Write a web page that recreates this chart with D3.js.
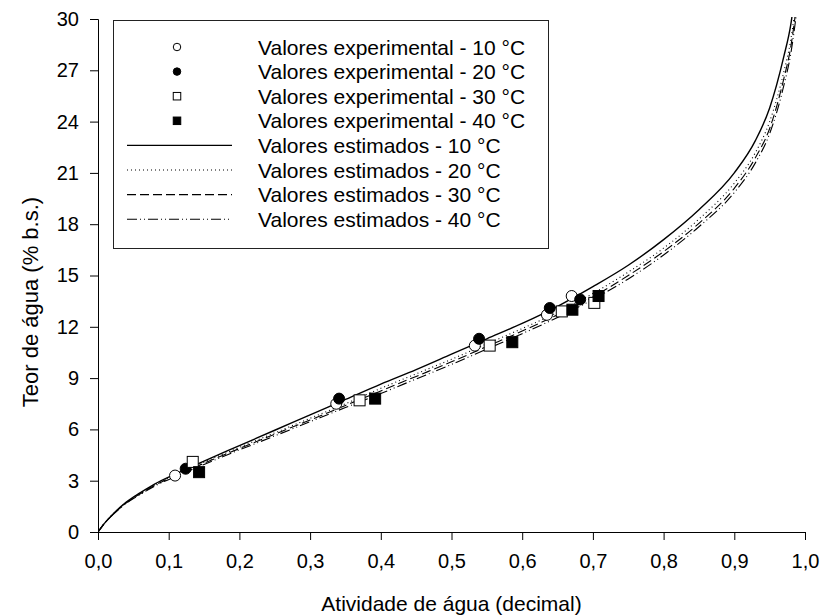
<!DOCTYPE html>
<html>
<head>
<meta charset="utf-8">
<script src="https://cdn.jsdelivr.net/npm/d3@7"></script>
<style>
  body { margin: 0; background: #fff; }
  text { font-family: "Liberation Sans", Arial, sans-serif; fill: #000; }
</style>
</head>
<body>
<script>
/* ----------------------------- Data ----------------------------- */
// experimental points (aw, moisture % d.b.)
const aw10 = [0.109, 0.337, 0.533, 0.635, 0.670];
const x10  = [3.3, 7.5, 10.9, 12.7, 13.8];
const aw20 = [0.124, 0.341, 0.539, 0.639, 0.682];
const x20  = [3.7, 7.8, 11.3, 13.1, 13.6];
const aw30 = [0.134, 0.370, 0.554, 0.656, 0.702];
const x30  = [4.1, 7.7, 10.9, 12.9, 13.4];
const aw40 = [0.143, 0.392, 0.586, 0.671, 0.708];
const x40  = [3.5, 7.8, 11.1, 13.0, 13.8];

// estimated curves
const awCurve = [0, 0.01, 0.02, 0.04, 0.06, 0.08, 0.11, 0.15, 0.2, 0.25, 0.3, 0.35, 0.4, 0.45, 0.5,
                 0.55, 0.6, 0.65, 0.7, 0.75, 0.8, 0.85, 0.9, 0.93, 0.95, 0.97, 0.98, 0.99];
const est10 = [0, 0.55, 1.0, 1.75, 2.3, 2.8, 3.4, 4.15, 5.05, 5.95, 6.85, 7.75, 8.65, 9.5, 10.4,
               11.3, 12.2, 13.2, 14.35, 15.6, 17.1, 18.85, 21.0, 22.9, 24.8, 27.8, 29.7, 33];
const est20 = [0, 0.55, 1.0, 1.72, 2.27, 2.75, 3.35, 4.08, 4.95, 5.8, 6.65, 7.5, 8.4, 9.25, 10.1,
               11.0, 11.9, 12.85, 13.95, 15.2, 16.6, 18.3, 20.4, 22.2, 24.0, 26.9, 28.8, 32];
const est30 = [0, 0.55, 0.98, 1.7, 2.24, 2.72, 3.3, 4.02, 4.88, 5.72, 6.55, 7.4, 8.25, 9.1, 9.95,
               10.85, 11.75, 12.7, 13.75, 15.0, 16.4, 18.05, 20.1, 21.9, 23.6, 26.5, 28.4, 31.5];
const est40 = [0, 0.55, 0.97, 1.68, 2.2, 2.68, 3.25, 3.95, 4.8, 5.62, 6.45, 7.28, 8.1, 8.95, 9.8,
               10.7, 11.6, 12.55, 13.6, 14.8, 16.2, 17.85, 19.85, 21.6, 23.3, 26.1, 28.0, 31.0];

const yTicks = d3.range(0, 31, 3);
const xTicks = d3.range(0, 11).map(d => d / 10);

const legendLabels = [
  "Valores experimental - 10 °C", "Valores experimental - 20 °C",
  "Valores experimental - 30 °C", "Valores experimental - 40 °C",
  "Valores estimados - 10 °C", "Valores estimados - 20 °C",
  "Valores estimados - 30 °C", "Valores estimados - 40 °C"
];

/* ----------------------------- Layout ----------------------------- */
const width = 822, height = 616;
const plotLeft = 98, plotRight = 805, plotTop = 19, plotBottom = 532;

const svg = d3.select("body").append("svg")
  .attr("width", width)
  .attr("height", height);

const xScale = d3.scaleLinear().domain([0, 1]).range([plotLeft, plotRight]);
const yScale = d3.scaleLinear().domain([0, 30]).range([plotBottom, plotTop]);

// marker styles: [shape, filled]
const markerStyle = [["circle", false], ["circle", true], ["square", false], ["square", true]];
const dashes = [null, "1,3", "9,4", "10,3,1,3,1,3"];

function drawMarker(g, cx, cy, style, size) {
  const [shape, filled] = style;
  if (shape === "circle") {
    g.append("circle").attr("cx", cx).attr("cy", cy).attr("r", size / 2)
      .attr("fill", filled ? "#000" : "#fff").attr("stroke", "#000").attr("stroke-width", 1);
  } else {
    g.append("rect").attr("x", cx - size / 2).attr("y", cy - size / 2)
      .attr("width", size).attr("height", size)
      .attr("fill", filled ? "#000" : "#fff").attr("stroke", "#000").attr("stroke-width", 1);
  }
}

/* ----------------------------- Axes ----------------------------- */
svg.append("g")
  .attr("transform", `translate(0,${plotBottom})`)
  .call(d3.axisBottom(xScale).tickValues(xTicks).tickSize(8).tickPadding(14)
    .tickFormat(d => d3.format(".1f")(d).replace(".", ",")))
  .call(g => g.select(".domain").attr("stroke", "#000"))
  .call(g => g.selectAll("text").style("font-size", "20px"));

svg.append("g")
  .attr("transform", `translate(${plotLeft},0)`)
  .call(d3.axisLeft(yScale).tickValues(yTicks).tickSize(8).tickPadding(11))
  .call(g => g.select(".domain").attr("stroke", "#000"))
  .call(g => g.selectAll("text").style("font-size", "20px"));

svg.append("text")
  .attr("x", (plotLeft + plotRight) / 2)
  .attr("y", 611)
  .attr("text-anchor", "middle")
  .style("font-size", "21px")
  .text("Atividade de água (decimal)");

svg.append("text")
  .attr("transform", "translate(38,302) rotate(-90)")
  .attr("text-anchor", "middle")
  .style("font-size", "22px")
  .text("Teor de água (% b.s.)");

/* ----------------------------- Curves ----------------------------- */
svg.append("clipPath").attr("id", "plotClip")
  .append("rect").attr("x", plotLeft).attr("y", plotTop - 2)
  .attr("width", plotRight - plotLeft).attr("height", plotBottom - plotTop + 2);

const line = d3.line()
  .x(d => xScale(d[0]))
  .y(d => yScale(d[1]))
  .curve(d3.curveMonotoneX);

const curves = [est10, est20, est30, est40];
curves.forEach((c, i) => {
  svg.append("path")
    .datum(awCurve.map((a, j) => [a, c[j]]))
    .attr("clip-path", "url(#plotClip)")
    .attr("fill", "none")
    .attr("stroke", "#000")
    .attr("stroke-width", i === 0 ? 1.4 : 1.1)
    .attr("stroke-dasharray", dashes[i])
    .attr("d", line);
});

/* ----------------------------- Points ----------------------------- */
const pointsAw = [aw10, aw20, aw30, aw40];
const pointsX = [x10, x20, x30, x40];
const pts = svg.append("g");
pointsAw.forEach((arr, i) => {
  arr.forEach((a, j) => drawMarker(pts, xScale(a), yScale(pointsX[i][j]), markerStyle[i], 11));
});

/* ----------------------------- Legend ----------------------------- */
const legend = svg.append("g");
legend.append("rect")
  .attr("x", 113.5).attr("y", 20.5).attr("width", 435).attr("height", 228)
  .attr("fill", "#fff").attr("stroke", "#222").attr("stroke-width", 1);

legendLabels.forEach((lab, i) => {
  const cy = 47 + i * 24.6;
  if (i < 4) {
    drawMarker(legend, 177, cy, markerStyle[i], 7.5);
  } else {
    legend.append("line")
      .attr("x1", 127).attr("x2", 232).attr("y1", cy).attr("y2", cy)
      .attr("stroke", "#000")
      .attr("stroke-width", i === 4 ? 1.4 : 1.1)
      .attr("stroke-dasharray", dashes[i - 4]);
  }
  legend.append("text")
    .attr("x", 258).attr("y", cy + 7.5)
    .style("font-size", "21px")
    .text(lab);
});
</script>
</body>
</html>
